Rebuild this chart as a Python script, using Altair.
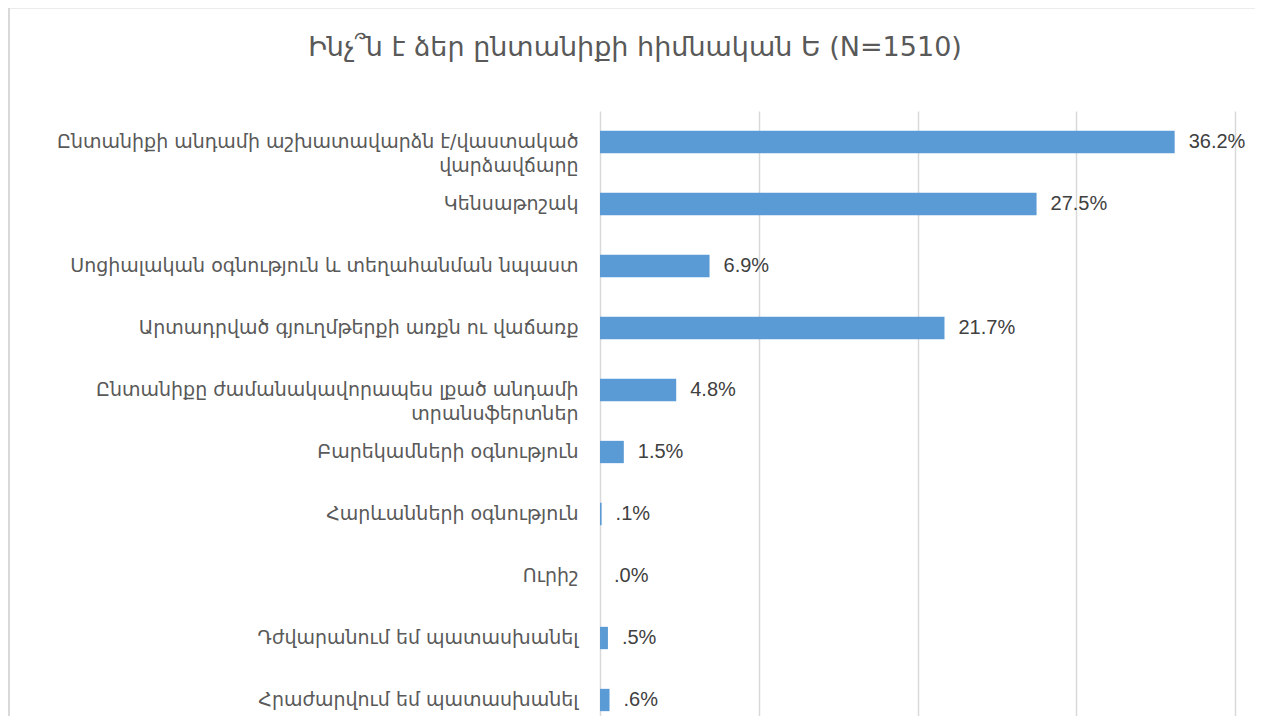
import altair as alt
import pandas as pd

categories = [
    "Ընտանիքի  անդամի աշխատավարձն է/վաստակած\nվարձավճարը",
    "Կենսաթոշակ",
    "Սոցիալական օգնություն և տեղահանման նպաստ",
    "Արտադրված  գյուղմթերքի առքն ու վաճառք",
    "Ընտանիքը ժամանակավորապես լքած անդամի\nտրանսֆերտներ",
    "Բարեկամների օգնություն",
    "Հարևանների օգնություն",
    "Ուրիշ",
    "Դժվարանում եմ պատասխանել",
    "Հրաժարվում եմ պատասխանել",
]
values = [36.2, 27.5, 6.9, 21.7, 4.8, 1.5, 0.1, 0.0, 0.5, 0.6]
x_ticks = [0, 10, 20, 30, 40]
title_text = "Ինչ՞ն է ձեր ընտանիքի հիմնական Ե (N=1510)"

df = pd.DataFrame({"cat": categories, "v": values})

ARM_FONT = "DejaVu Sans"
NUM_FONT = "Liberation Sans"

base = alt.Chart(df).transform_calculate(
    lbl="datum.v < 1 ? substring(format(datum.v, '.1f'), 1) + '%' : format(datum.v, '.1f') + '%'"
)

y_scale = alt.Scale(paddingInner=0.64, paddingOuter=0.32, range=[0, 620])

y_enc = alt.Y(
    "cat:N",
    sort=None,
    title=None,
    scale=y_scale,
    axis=alt.Axis(
        labelExpr="split(datum.label, '\\n')",
        labelFont=ARM_FONT,
        labelFontSize=19,
        labelColor="#595959",
        labelPadding=22,
        labelLimit=600,
        labelLineHeight=24,
        ticks=False,
        domain=False,
        grid=False,
    ),
)

x_enc = alt.X(
    "v:Q",
    title=None,
    scale=alt.Scale(domain=[0, 40], nice=False),
    axis=alt.Axis(
        orient="top",
        values=x_ticks,
        labels=False,
        ticks=False,
        domain=False,
        grid=True,
        gridColor="#D9D9D9",
        gridWidth=1.5,
    ),
)

bars = base.mark_bar(color="#5B9BD5").encode(x=x_enc, y=y_enc)

texts = base.mark_text(
    align="left", baseline="middle", dx=14, fontSize=20, font=NUM_FONT, color="#404040"
).encode(x="v:Q", y=alt.Y("cat:N", sort=None, scale=y_scale), text="lbl:N")

frame = alt.Chart(alt.Data(values=[{}])).mark_rect(
    fill=None, stroke="#D9D9D9", strokeWidth=2
).encode(
    x=alt.value(-591), x2=alt.value(800), y=alt.value(-103.5), y2=alt.value(800)
)

title = alt.Chart(alt.Data(values=[{"t": title_text}])).mark_text(
    align="center", baseline="middle", font=ARM_FONT, fontSize=27, color="#595959"
).encode(x=alt.value(35), y=alt.value(-63), text="t:N")

chart = alt.layer(frame, title, bars, texts).properties(
    width=635,
    height=605,
    autosize=alt.AutoSizeParams(type="none"),
    padding={"left": 592, "top": 103, "right": 20, "bottom": 0},
).configure(
    background="white",
    view=alt.ViewConfig(stroke="transparent", strokeWidth=0),
)

chart.save("out.html", embed_options={"renderer": "svg", "actions": False})
